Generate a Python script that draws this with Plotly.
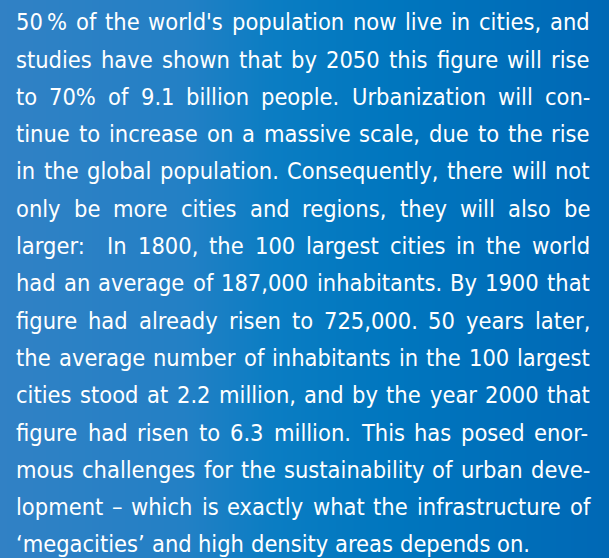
import glob
import struct

import plotly.graph_objects as go

# %% datos
W, H = 609, 558
LINEAS = [
    "50\u2009% of the world's population now live in cities, and",
    "studies have shown that by 2050 this figure will rise",
    "to 70% of 9.1 billion people. Urbanization will con-",
    "tinue to increase on a massive scale, due to the rise",
    "in the global population. Consequently, there will not",
    "only be more cities and regions, they will also be",
    "larger:  In 1800, the 100 largest cities in the world",
    "had an average of 187,000 inhabitants. By 1900 that",
    "figure had already risen to 725,000. 50 years later,",
    "the average number of inhabitants in the 100 largest",
    "cities stood at 2.2 million, and by the year 2000 that",
    "figure had risen to 6.3 million. This has posed enor-",
    "mous challenges for the sustainability of urban deve-",
    "lopment \u2013 which is exactly what the infrastructure of",
    "\u2018megacities\u2019 and high density areas depends on.",
]
FONDO_POS = [0, 0.3, 0.45, 0.65, 1]
FONDO_COL = ['#3181c5', '#2380c5', '#0a7dc3', '#0076be', '#0068b5']

FUENTE = 'DejaVu Sans Condensed'
ARCHIVO = 'DejaVuSansCondensed.ttf'
X_IZQ, X_DER = 16.0, 590.0       # márgenes del bloque justificado (px)
BASE0, PASO = 30.0, 37.3         # primera línea base y separación (px)
ANCHO_ULTIMA = 514.0             # ancho de la última línea (sin justificar)


# %% métricas de la fuente (avances de hmtx) para justificar
def cargar_metricas(ruta):
    d = open(ruta, 'rb').read()
    u16 = lambda o: struct.unpack('>H', d[o:o + 2])[0]
    s16 = lambda o: struct.unpack('>h', d[o:o + 2])[0]
    u32 = lambda o: struct.unpack('>I', d[o:o + 4])[0]
    tab = {}
    for i in range(u16(4)):
        tag, _, off, _ = struct.unpack('>4sIII', d[12 + 16 * i:28 + 16 * i])
        tab[tag.decode('latin-1')] = off
    upem = u16(tab['head'] + 18)
    asc = s16(tab['hhea'] + 4) / upem
    nhm = u16(tab['hhea'] + 34)
    adv = [u16(tab['hmtx'] + 4 * i) for i in range(nhm)]
    cm = tab['cmap']; sub4 = sub12 = None
    for i in range(u16(cm + 2)):
        pid, eid, off = struct.unpack('>HHI', d[cm + 4 + 8 * i:cm + 12 + 8 * i])
        fmt = u16(cm + off)
        if pid in (0, 3) and fmt == 12: sub12 = cm + off
        if pid in (0, 3) and fmt == 4: sub4 = cm + off

    def gid(c):
        if sub12 is not None:
            for i in range(u32(sub12 + 12)):
                s, e, g = struct.unpack('>III', d[sub12 + 16 + 12 * i:sub12 + 28 + 12 * i])
                if s <= c <= e: return g + c - s
            return 0
        seg2 = u16(sub4 + 6); ends = sub4 + 14; starts = ends + seg2 + 2
        deltas = starts + seg2; rngs = deltas + seg2
        for i in range(seg2 // 2):
            if c <= u16(ends + 2 * i):
                st = u16(starts + 2 * i)
                if c < st: return 0
                dl = u16(deltas + 2 * i); ro = u16(rngs + 2 * i)
                if ro == 0: return (c + dl) & 0xFFFF
                g = u16(rngs + 2 * i + ro + 2 * (c - st))
                return (g + dl) & 0xFFFF if g else 0
        return 0

    def ancho(txt):  # en em
        tot = 0
        for ch in txt:
            g = gid(ord(ch))
            tot += adv[min(g, nhm - 1)] / upem if g else 0.2
        return tot
    return ancho, asc


rutas = glob.glob('/usr/share/fonts/**/' + ARCHIVO, recursive=True)
if rutas:
    ancho_em, ascenso = cargar_metricas(rutas[0])
else:
    ancho_em, ascenso = (lambda t: 0.5 * len(t)), 0.93

tam = ANCHO_ULTIMA / ancho_em(LINEAS[-1])

# %% figura
fig = go.Figure(go.Heatmap(
    z=[FONDO_POS, FONDO_POS], x=FONDO_POS, y=[0, 1],
    colorscale=list(zip(FONDO_POS, FONDO_COL)), zmin=0, zmax=1,
    zsmooth='best', showscale=False, hoverinfo='skip'))

anots = []
for i, linea in enumerate(LINEAS):
    palabras = linea.split(' ')
    anchos = [ancho_em(p) * tam for p in palabras]
    if i == len(LINEAS) - 1:
        hueco = ancho_em(' ') * tam
    else:
        hueco = (X_DER - X_IZQ - sum(anchos)) / (len(palabras) - 1)
    y_top = BASE0 + PASO * i - ascenso * tam
    x = X_IZQ
    for p, a in zip(palabras, anchos):
        if p:
            anots.append(dict(
                text=p, x=x / W, y=1 - y_top / H, xref='paper', yref='paper',
                xanchor='left', yanchor='top', showarrow=False,
                borderpad=0, borderwidth=0,
                font=dict(family=FUENTE, size=tam, color='#ffffff')))
        x += a + hueco

fig.update_layout(
    width=W, height=H, margin=dict(l=0, r=0, t=0, b=0),
    paper_bgcolor=FONDO_COL[-1], plot_bgcolor=FONDO_COL[-1],
    xaxis=dict(visible=False, range=[0, 1], fixedrange=True),
    yaxis=dict(visible=False, range=[0, 1], fixedrange=True),
    annotations=anots, showlegend=False)

fig.write_html("out.html", config={'displayModeBar': False},
               post_script="document.body.style.margin='0';")
